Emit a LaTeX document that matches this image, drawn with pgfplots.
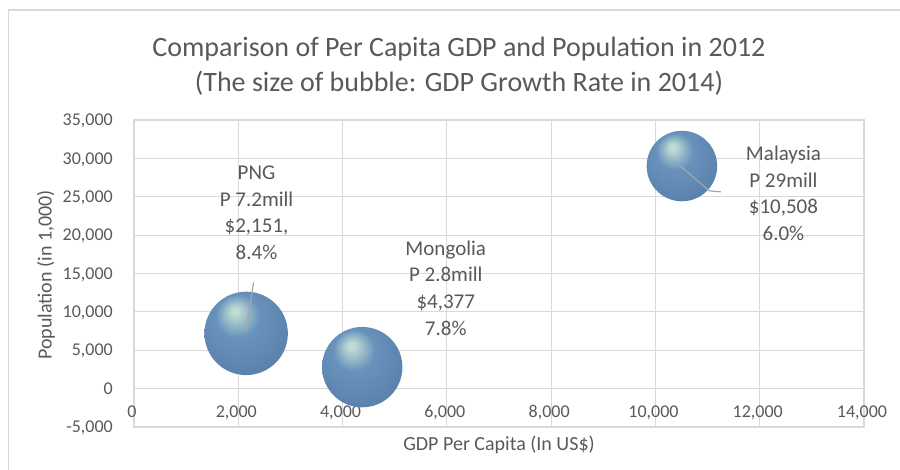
\documentclass[border=0pt]{standalone}
\usepackage{pgfplots}
\pgfplotsset{compat=1.18}
\usepackage{fontspec}
\setmainfont{Carlito}
\definecolor{gridc}{HTML}{D9D9D9}
\definecolor{txt}{HTML}{595959}
\definecolor{lead}{HTML}{A6A6A6}
\definecolor{bhl}{RGB}{190,220,210}
\definecolor{bmid}{RGB}{104,146,188}
\definecolor{bmid2}{RGB}{90,130,172}
\definecolor{bdark}{RGB}{62,92,126}
\pgfdeclareradialshading{bubble}{\pgfpoint{-7bp}{14bp}}{color(0bp)=(bhl); color(2bp)=(bhl); color(13bp)=(bmid); color(30bp)=(bmid2); color(42bp)=(bdark); color(50bp)=(bdark)}
\pgfdeclareplotmark{bubble}{\pgfpathcircle{\pgfpointorigin}{\pgfplotmarksize}\pgfshadepath{bubble}{0}\pgfusepath{}}
\begin{document}
\begin{tikzpicture}[x=1pt,y=1pt]
\useasboundingbox (0,0) rectangle (900,-470);
\draw[gridc, line width=1.2pt] (8.5,-10) rectangle (1000,-1000);
\begin{axis}[at={(134pt,-427pt)}, anchor=south west, scale only axis,
  width=730pt, height=307pt,
  xmin=0, xmax=14000, ymin=-5000, ymax=35000, clip=false,
  scaled ticks=false,
  xtick={0,2000,...,14000},
  xticklabels={0,{2,000},{4,000},{6,000},{8,000},{10,000},{12,000},{14,000}},
  ytick={-5000,0,...,35000},
  yticklabels={{-5,000},0,{5,000},{10,000},{15,000},{20,000},{25,000},{30,000},{35,000}},
  major tick length=0pt, grid=major,
  grid style={gridc, line width=1.2pt},
  axis line style={gridc, line width=1.2pt},
  tick label style={font=\fontsize{18}{22}\selectfont, text=txt},
  xticklabel style={anchor=base, inner sep=0pt, yshift=9.6pt, xshift=-2pt},
  yticklabel style={anchor=base east, inner sep=0pt, xshift=-21pt, yshift=-5.7pt},
]
\addplot[scatter, only marks, mark=bubble, point meta=\thisrow{g},
  visualization depends on={\thisrow{g}\as\gr},
  scatter/@pre marker code/.code={\pgfmathsetmacro\rr{14.39*sqrt(\gr)}\scope[mark size=\rr pt]},
  scatter/@post marker code/.code={\endscope}]
  table {
x y g
2151 7200 8.4
4377 2800 7.8
10508 29000 6.0
};
\coordinate (p1) at (axis cs:2152,7408);
\coordinate (p2) at (axis cs:2292,13840);
\coordinate (m1) at (axis cs:10461,29112);
\coordinate (m2) at (axis cs:11034,25766);
\coordinate (m3) at (axis cs:11256,25636);
\coordinate (lp) at (axis cs:2350,22930);
\coordinate (lm) at (axis cs:5979,13098);
\coordinate (ly) at (axis cs:12455,25467);
\end{axis}
\draw[lead, line width=1.2pt] (p1) -- (p2);
\draw[lead, line width=1.2pt] (m1) -- (m2) -- (m3);
\node[align=center, font=\fontsize{21}{26.7}\selectfont, text=txt] at (lp) {PNG\\P 7.2mill\\\$2,151,\\8.4\%};
\node[align=center, font=\fontsize{21}{26.7}\selectfont, text=txt] at (lm) {Mongolia\\P 2.8mill\\\$4,377\\7.8\%};
\node[align=center, font=\fontsize{21}{26.7}\selectfont, text=txt] at (ly) {Malaysia\\P 29mill\\\$10,508\\6.0\%};
\node[anchor=base, font=\fontsize{28}{34}\selectfont, text=txt] at (459,-57) {Comparison of Per Capita GDP and Population in 2012};
\node[anchor=base, font=\fontsize{28}{34}\selectfont, text=txt] at (459,-92) {(The size of bubble: GDP Growth Rate in 2014)};
\node[font=\fontsize{20}{24}\selectfont, text=txt] at (499,-445) {GDP Per Capita (In US\$)};
\node[rotate=90, font=\fontsize{20}{24}\selectfont, text=txt] at (46,-275) {Population (in 1,000)};
\end{tikzpicture}
\end{document}
